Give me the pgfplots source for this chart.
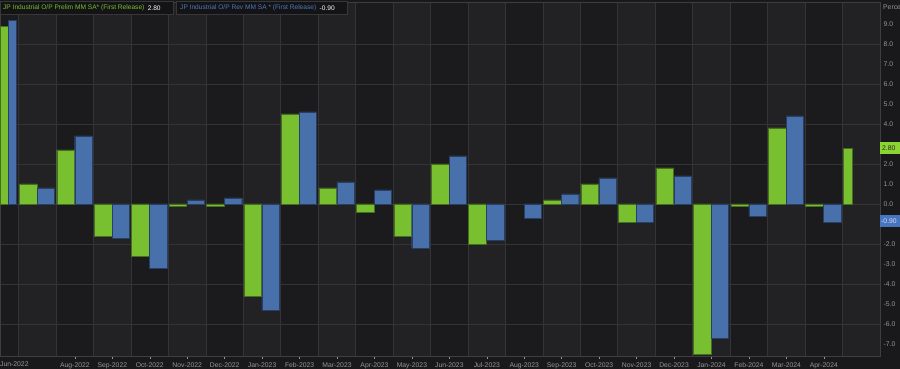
\documentclass[border=0pt]{standalone}
\usepackage{pgfplots}
\pgfplotsset{compat=1.18}
\usepackage{fontspec}
\setmainfont{Liberation Sans}
\definecolor{outerbg}{RGB}{25,25,27}
\definecolor{celldark}{RGB}{27,27,29}
\definecolor{celllight}{RGB}{34,34,36}
\definecolor{gridc}{RGB}{52,52,55}
\definecolor{framec}{RGB}{62,62,65}
\definecolor{txt}{RGB}{150,150,152}
\definecolor{gbar}{RGB}{120,192,48}
\definecolor{gbarE}{RGB}{70,110,30}
\definecolor{bbar}{RGB}{72,112,170}
\definecolor{bbarE}{RGB}{40,62,100}
\definecolor{legbg}{RGB}{20,20,22}
\definecolor{legbd}{RGB}{55,55,58}
\definecolor{legg}{RGB}{120,192,48}
\definecolor{legb}{RGB}{78,120,190}
\definecolor{boxg}{RGB}{140,212,50}
\definecolor{boxb}{RGB}{70,118,190}
\newcommand\fs{\fontsize{6.8}{8}\selectfont}
\newcommand\fl{\fontsize{6.6}{8}\selectfont}
\begin{document}
\begin{tikzpicture}[x=1pt,y=1pt]
\begin{axis}[
  set layers,
  at={(0pt,13pt)}, anchor=south west,
  scale only axis, width=880pt, height=354pt,
  xmin=0, xmax=23.5, ymin=-7.6, ymax=10.1,
  axis line style={draw=framec, line width=0.7pt},
  clip=true,
  xtick={2,...,22},
  xticklabels={Aug-2022,Sep-2022,Oct-2022,Nov-2022,Dec-2022,Jan-2023,Feb-2023,Mar-2023,Apr-2023,May-2023,Jun-2023,Jul-2023,Aug-2023,Sep-2023,Oct-2023,Nov-2023,Dec-2023,Jan-2024,Feb-2024,Mar-2024,Apr-2024},
  xtick pos=bottom, tick align=outside,
  major tick length=3pt,
  x tick style={draw=txt, line width=0.5pt},
  xticklabel style={font=\fs, text=txt, inner sep=0pt, anchor=north, yshift=-3.5pt},
  ytick={-7,-6,-5,-4,-3,-2,0,1,2,4,5,6,7,8,9},
  yticklabels={-7.0,-6.0,-5.0,-4.0,-3.0,-2.0,0.0,1.0,2.0,4.0,5.0,6.0,7.0,8.0,9.0},
  ytick pos=right,
  y tick style={draw=none},
  yticklabel style={font=\fs, text=txt, inner sep=0pt, anchor=west, xshift=0.5pt},
  extra x ticks={0.5,1.5,2.5,3.5,4.5,5.5,6.5,7.5,8.5,9.5,10.5,11.5,12.5,13.5,14.5,15.5,16.5,17.5,18.5,19.5,20.5,21.5,22.5},
  extra x tick labels={},
  extra x tick style={grid=major, major tick length=0pt, tick style={draw=none}},
  extra y ticks={-6,-4,-2,0,2,4,6,8},
  extra y tick labels={},
  extra y tick style={grid=major, tick style={draw=none}},
  major grid style={draw=gridc, line width=0.8pt},
]
\begin{pgfonlayer}{axis background}
\fill[outerbg] ([shift={(-5pt,-20pt)}]rel axis cs:0,0) rectangle ([shift={(30pt,10pt)}]rel axis cs:1,1);
\fill[celldark] (axis cs:0,-7.6) rectangle (axis cs:23.5,10.1);
\fill[celllight] (axis cs:0.5,-7.6) rectangle (axis cs:1.5,10.1);
\fill[celllight] (axis cs:2.5,-7.6) rectangle (axis cs:3.5,10.1);
\fill[celllight] (axis cs:4.5,-7.6) rectangle (axis cs:5.5,10.1);
\fill[celllight] (axis cs:6.5,-7.6) rectangle (axis cs:7.5,10.1);
\fill[celllight] (axis cs:8.5,-7.6) rectangle (axis cs:9.5,10.1);
\fill[celllight] (axis cs:10.5,-7.6) rectangle (axis cs:11.5,10.1);
\fill[celllight] (axis cs:12.5,-7.6) rectangle (axis cs:13.5,10.1);
\fill[celllight] (axis cs:14.5,-7.6) rectangle (axis cs:15.5,10.1);
\fill[celllight] (axis cs:16.5,-7.6) rectangle (axis cs:17.5,10.1);
\fill[celllight] (axis cs:18.5,-7.6) rectangle (axis cs:19.5,10.1);
\fill[celllight] (axis cs:20.5,-7.6) rectangle (axis cs:21.5,10.1);
\fill[celllight] (axis cs:22.5,-7.6) rectangle (axis cs:23.5,10.1);
\end{pgfonlayer}
% Prelim (green)
\addplot[ybar, bar width=0.47, bar shift=-0.25, fill=gbar, draw=gbarE, line width=0.4pt] coordinates {
 (1,1.0) (2,2.7) (3,-1.6) (4,-2.6) (5,-0.1) (6,-0.1) (7,-4.6) (8,4.5) (9,0.8) (10,-0.4)
 (11,-1.6) (12,2.0) (13,-2.0) (15,0.2) (16,1.0) (17,-0.9) (18,1.8) (19,-7.5) (20,-0.1)
 (21,3.8) (22,-0.1)};
% Revised (blue)
\addplot[ybar, bar width=0.46, bar shift=0.225, fill=bbar, draw=bbarE, line width=0.4pt] coordinates {
 (1,0.8) (2,3.4) (3,-1.7) (4,-3.2) (5,0.2) (6,0.3) (7,-5.3) (8,4.6) (9,1.1) (10,0.7)
 (11,-2.2) (12,2.4) (13,-1.8) (14,-0.7) (15,0.5) (16,1.3) (17,-0.9) (18,1.4) (19,-6.7)
 (20,-0.6) (21,4.4) (22,-0.9)};
% edge periods (compressed)
\addplot[ybar, bar width=0.21, bar shift=0.105, fill=gbar, draw=gbarE, line width=0.4pt] coordinates {(0,8.9)};
\addplot[ybar, bar width=0.21, bar shift=0.32, fill=bbar, draw=bbarE, line width=0.4pt] coordinates {(0,9.2)};
\addplot[ybar, bar width=0.24, bar shift=-0.37, fill=gbar, draw=gbarE, line width=0.4pt] coordinates {(23,2.8)};
\end{axis}
% first x label
\node[font=\fs, text=txt, anchor=west, inner sep=0pt] at (0,4.5) {Jun-2022};
% unit label
\node[font=\fs, text=txt, anchor=west, inner sep=0pt] at (883,362) {Percent};
% value boxes
\fill[boxg] (880,215) rectangle (900,227);
\node[font=\fs, text=black!85, anchor=west, inner sep=0pt] at (882,221) {2.80};
\fill[boxb] (880,142) rectangle (900,154);
\node[font=\fs, text=white!85!blue, anchor=west, inner sep=0pt] at (881,148) {-0.90};
% legend
\fill[legbg] (0,354.5) rectangle (173,367.5);
\draw[legbd, line width=0.6pt] (0,354.5) rectangle (173,367.5);
\node[font=\fl, text=legg, anchor=west, inner sep=0pt] (l1) at (3,361) {JP Industrial O/P Prelim MM SA* (First Release)};
\node[font=\fl, text=white!85, anchor=west, inner sep=0pt] at ([xshift=3pt]l1.east) {2.80};
\fill[legbg] (176,354.5) rectangle (347,367.5);
\draw[legbd, line width=0.6pt] (176,354.5) rectangle (347,367.5);
\node[font=\fl, text=legb, anchor=west, inner sep=0pt] (l2) at (180,361) {JP Industrial O/P Rev MM SA * (First Release)};
\node[font=\fl, text=white!85, anchor=west, inner sep=0pt] at ([xshift=3pt]l2.east) {-0.90};
\pgfresetboundingbox
\path[use as bounding box] (0,0) rectangle (900,369);
\end{tikzpicture}
\end{document}
